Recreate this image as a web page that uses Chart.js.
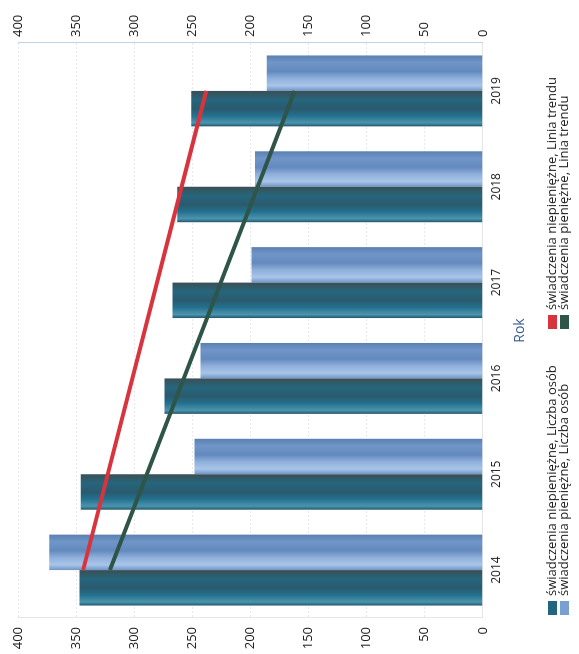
<!DOCTYPE html>
<html lang="pl">
<head>
<meta charset="utf-8">
<script src="https://cdn.jsdelivr.net/npm/chart.js@4.4.1/dist/chart.umd.min.js"></script>
<style>
  html, body { margin: 0; padding: 0; background: #fff; overflow: hidden; }
  body { width: 579px; height: 654px; position: relative; }
  /* the scanned chart is turned on its side: draw it upright, then rotate */
  #wrap {
    position: absolute; left: 0; top: 0;
    width: 654px; height: 579px;
    transform-origin: 0 0;
    transform: translateY(654px) rotate(-90deg);
    font-family: "Open Sans", sans-serif;
  }
  #chart { position: absolute; left: 0; top: 0; }
  .leg { position: absolute; font-size: 13px; color: #222; white-space: nowrap; line-height: 13px; }
  .leg i { display: inline-block; width: 14px; height: 9px; margin-right: 5px; vertical-align: -1px; }
</style>
</head>
<body>
<div id="wrap">
  <canvas id="chart" width="654" height="579"></canvas>
  <div class="leg" style="left:39px; top:545px"><i style="background:#1f6680"></i>świadczenia niepieniężne, Liczba osób</div>
  <div class="leg" style="left:39px; top:557px"><i style="background:#7c9fd1"></i>świadczenia pieniężne, Liczba osób</div>
  <div class="leg" style="left:325px; top:545px"><i style="background:#d8343e"></i>świadczenia niepieniężne, Linia trendu</div>
  <div class="leg" style="left:325px; top:557px"><i style="background:#2e5547"></i>świadczenia pieniężne, Linia trendu</div>
</div>
<script>
const years = ['2014', '2015', '2016', '2017', '2018', '2019'];
const niepieniezne = [347, 346, 274, 267, 263, 251];
const pieniezne = [373, 248, 243, 199, 196, 186];
// trend lines: only the two end values, joined straight
const trendNiepieniezne = [344, null, null, null, null, 238];
const trendPieniezne = [321, null, null, null, null, 162];
const valueTicks = [0, 50, 100, 150, 200, 250, 300, 350, 400];

const CAT_PCT = 0.74;

// cylinder-like shading across each column
function barFill(stops, fallback) {
    return function (c) {
        if (c.type !== 'data') return fallback;
        const chart = c.chart;
        const xs = chart.scales.x;
        if (!xs || !chart.chartArea) return fallback;
        const center = xs.getPixelForValue(c.dataIndex);
        const w = xs.width / years.length * CAT_PCT / 2;
        const left = c.datasetIndex === 0 ? center - w : center;
        if (!isFinite(left)) return fallback;
        const g = chart.ctx.createLinearGradient(left, 0, left + w, 0);
        stops.forEach(s => g.addColorStop(s[0], s[1]));
        return g;
    };
}

const darkStops = [[0, '#22586e'], [0.1, '#4c94ad'], [0.3, '#23708e'], [0.5, '#2a5a6e'], [0.75, '#26667d'], [1, '#3a4f55']];
const lightStops = [[0, '#6f95c7'], [0.15, '#a9c5e8'], [0.35, '#8fb0dc'], [0.55, '#6389bd'], [0.8, '#7096c9'], [1, '#5a7fb0']];

const tickFont = { family: 'Open Sans', size: 13 };

const ctx = document.getElementById('chart').getContext('2d');
new Chart(ctx, {
    type: 'bar',
    data: {
        labels: years,
        datasets: [
            {
                label: 'świadczenia niepieniężne, Liczba osób',
                data: niepieniezne,
                backgroundColor: barFill(darkStops, '#1f6680'),
                yAxisID: 'y',
                order: 2
            },
            {
                label: 'świadczenia pieniężne, Liczba osób',
                data: pieniezne,
                backgroundColor: barFill(lightStops, '#7c9fd1'),
                yAxisID: 'y',
                order: 2
            },
            {
                type: 'line',
                label: 'świadczenia niepieniężne, Linia trendu',
                data: trendNiepieniezne,
                borderColor: '#d8343e',
                borderWidth: 4,
                pointRadius: 0,
                spanGaps: true,
                yAxisID: 'y',
                order: 0
            },
            {
                type: 'line',
                label: 'świadczenia pieniężne, Linia trendu',
                data: trendPieniezne,
                borderColor: '#2e5547',
                borderWidth: 4,
                pointRadius: 0,
                spanGaps: true,
                yAxisID: 'y',
                order: 1
            }
        ]
    },
    options: {
        responsive: false,
        animation: false,
        devicePixelRatio: 1,
        layout: { padding: { left: 0, right: 0, top: 18, bottom: 49 } },
        datasets: {
            bar: { categoryPercentage: CAT_PCT, barPercentage: 1.0 }
        },
        plugins: {
            legend: { display: false },
            tooltip: { enabled: false }
        },
        scales: {
            x: {
                grid: { display: false, drawTicks: false },
                border: { color: '#e4e6ea' },
                ticks: { font: { family: 'Open Sans', size: 12 }, color: '#222', padding: 7, maxRotation: 0 },
                title: {
                    display: true,
                    text: 'Rok',
                    color: '#3d5f8f',
                    font: { family: 'Open Sans', size: 14 },
                    padding: { top: 0, bottom: 2 }
                }
            },
            y: {
                position: 'left',
                min: 0,
                max: 400,
                afterBuildTicks: axis => { axis.ticks = valueTicks.map(v => ({ value: v })); },
                afterFit: axis => { axis.width = 36; },
                grid: { color: '#e6e8ee', drawTicks: false },
                border: { color: '#e4e6ea', dash: [2, 2] },
                ticks: { font: tickFont, color: '#222', padding: 9 }
            },
            y2: {
                position: 'right',
                min: 0,
                max: 400,
                afterBuildTicks: axis => { axis.ticks = valueTicks.map(v => ({ value: v })); },
                afterFit: axis => { axis.width = 43; },
                grid: { display: false, drawTicks: false },
                border: { color: '#bcd3ea' },
                ticks: { font: tickFont, color: '#222', padding: 6 }
            }
        }
    }
});
</script>
</body>
</html>
